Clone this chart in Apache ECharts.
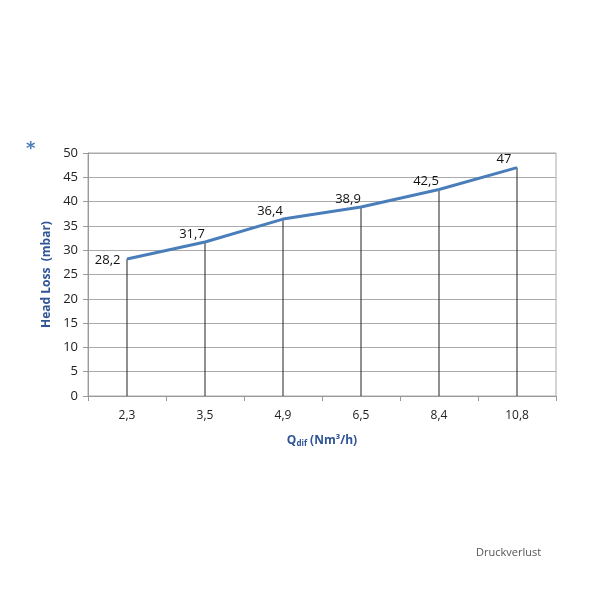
<!DOCTYPE html>
<html><head><meta charset="utf-8">
<script src="https://cdn.jsdelivr.net/npm/echarts@6/dist/echarts.min.js"></script>
<style>html,body{margin:0;padding:0;background:#fff}#c{width:600px;height:600px}</style>
</head><body><div id="c"></div>
<script>
var categories = ['2,3', '3,5', '4,9', '6,5', '8,4', '10,8'];
var headLoss = [28.2, 31.7, 36.4, 38.9, 42.5, 47];
var yTicks = [0, 5, 10, 15, 20, 25, 30, 35, 40, 45, 50];

var lineData = headLoss.map(function (v, i) {
  return i === 0 ? {value: v, label: {position: 'left', offset: [-1, 1]}} : v;
});

var chart = echarts.init(document.getElementById('c'));
chart.setOption({
  backgroundColor: '#fff',
  animation: false,
  graphic: [
    {type: 'text', left: 26, top: 140, style: {text: '*', fill: '#4a7ebb', font: 'bold 18px "DejaVu Sans"'}},
    {type: 'text', left: 476, top: 547, style: {text: 'Druckverlust', fill: '#555', font: '11px "Open Sans"'}},
    {type: 'rect', shape: {x: 88, y: 153, width: 468, height: 243}, style: {fill: 'none', stroke: '#aaa', lineWidth: 1}, z: 0}
  ],
  grid: {left: 88, right: 44, top: 153, bottom: 204},
  xAxis: {
    type: 'category', data: categories, boundaryGap: true,
    axisLine: {lineStyle: {color: '#999'}},
    axisTick: {show: true, length: 5, lineStyle: {color: '#999'}},
    axisLabel: {color: '#222', fontSize: 12, margin: 14, fontFamily: 'Open Sans'},
    name: '{m|Q}{s|dif}{m| (Nm³/h)}', nameLocation: 'middle', nameGap: 38,
    nameTextStyle: {rich: {
      m: {color: '#2f5597', fontSize: 12, fontWeight: 'bold', fontFamily: 'Open Sans'},
      s: {color: '#2f5597', fontSize: 8, fontWeight: 'bold', fontFamily: 'Open Sans', verticalAlign: 'bottom', padding: [6, 0, 0, 0]}
    }}
  },
  yAxis: {
    type: 'value', min: 0, max: 50, interval: 5,
    axisLine: {show: true, lineStyle: {color: '#999'}},
    axisTick: {show: true, length: 5, lineStyle: {color: '#999'}},
    splitLine: {lineStyle: {color: '#aaa'}},
    axisLabel: {color: '#222', fontSize: 13, margin: 10, fontFamily: 'Open Sans'},
    name: 'Head Loss  (mbar)', nameLocation: 'middle', nameGap: 29,
    nameTextStyle: {color: '#2f5597', fontSize: 12, fontWeight: 'bold', fontFamily: 'Open Sans'}
  },
  series: [
    {
      type: 'bar', data: headLoss, barWidth: 1, silent: true,
      itemStyle: {color: '#222'}, z: 2
    },
    {
      type: 'line', data: lineData, showSymbol: true, symbol: 'circle', symbolSize: 1, z: 3,
      itemStyle: {color: 'rgba(0,0,0,0)'},
      lineStyle: {color: '#4a7ebb', width: 3},
      label: {
        show: true, position: 'top', offset: [-13, 4], color: '#111', fontSize: 13, fontFamily: 'Open Sans',
        formatter: function (p) { return String(p.value).replace('.', ','); }
      }
    }
  ]
});
</script></body></html>
